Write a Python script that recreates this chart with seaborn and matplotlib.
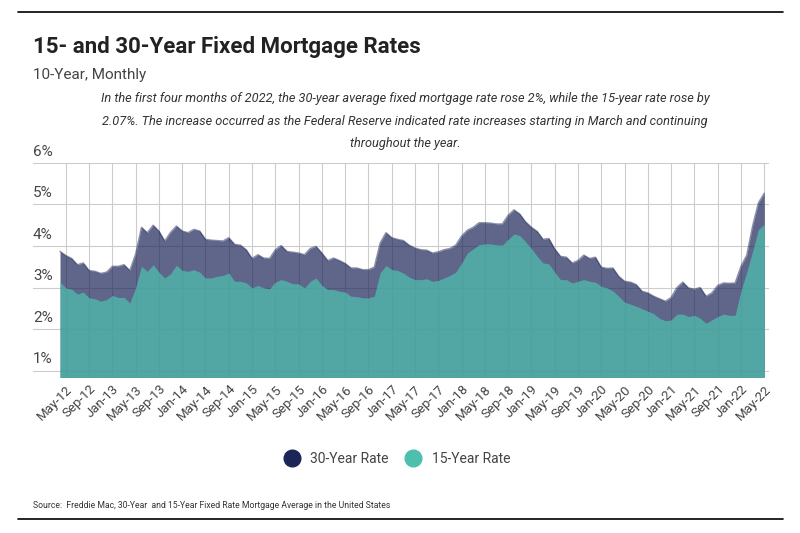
import matplotlib
matplotlib.use("Agg")
import matplotlib.pyplot as plt
from matplotlib.lines import Line2D
import seaborn as sns
import pandas as pd
import numpy as np

# Monthly (last week of month), Apr-2012 .. May-2022
months = pd.date_range("2012-04-01", "2022-05-01", freq="MS")

rate_30 = [3.87, 3.77, 3.70, 3.55, 3.59, 3.41, 3.39, 3.34, 3.37, 3.51,
           3.51, 3.55, 3.41, 3.81, 4.45, 4.32, 4.50, 4.36, 4.12, 4.33,
           4.48, 4.36, 4.32, 4.40, 4.36, 4.16, 4.14, 4.13, 4.12, 4.20,
           4.04, 4.02, 3.91, 3.70, 3.79, 3.71, 3.70, 3.91, 4.01, 3.87,
           3.85, 3.83, 3.79, 3.94, 3.99, 3.83, 3.65, 3.71, 3.65, 3.58,
           3.47, 3.47, 3.43, 3.43, 3.49, 4.07, 4.32, 4.20, 4.16, 4.13,
           4.02, 3.95, 3.91, 3.90, 3.83, 3.86, 3.91, 3.94, 4.02, 4.24,
           4.38, 4.45, 4.56, 4.56, 4.55, 4.53, 4.53, 4.74, 4.87, 4.77,
           4.58, 4.45, 4.35, 4.16, 4.18, 3.93, 3.75, 3.73, 3.59, 3.65,
           3.78, 3.70, 3.73, 3.49, 3.46, 3.47, 3.27, 3.15, 3.13, 3.07,
           2.91, 2.87, 2.79, 2.73, 2.67, 2.76, 3.00, 3.13, 2.99, 2.96,
           3.00, 2.79, 2.87, 3.05, 3.11, 3.10, 3.11, 3.51, 3.78, 4.48,
           5.04, 5.27]

rate_15 = [3.13, 2.99, 2.96, 2.84, 2.89, 2.75, 2.73, 2.67, 2.71, 2.81,
           2.76, 2.76, 2.63, 3.00, 3.51, 3.39, 3.55, 3.37, 3.23, 3.33,
           3.54, 3.41, 3.39, 3.43, 3.37, 3.23, 3.23, 3.27, 3.29, 3.35,
           3.15, 3.15, 3.11, 2.99, 3.05, 2.99, 2.97, 3.13, 3.19, 3.15,
           3.09, 3.09, 2.99, 3.15, 3.23, 3.05, 2.95, 2.95, 2.91, 2.89,
           2.79, 2.78, 2.75, 2.75, 2.79, 3.35, 3.53, 3.43, 3.41, 3.35,
           3.25, 3.19, 3.19, 3.21, 3.15, 3.17, 3.23, 3.29, 3.37, 3.59,
           3.83, 3.93, 4.03, 4.05, 4.05, 4.03, 4.02, 4.16, 4.29, 4.25,
           4.10, 3.94, 3.75, 3.59, 3.57, 3.37, 3.19, 3.19, 3.11, 3.15,
           3.19, 3.15, 3.13, 3.03, 2.99, 2.92, 2.79, 2.65, 2.60, 2.55,
           2.49, 2.43, 2.37, 2.26, 2.20, 2.22, 2.36, 2.36, 2.30, 2.33,
           2.26, 2.14, 2.22, 2.30, 2.36, 2.33, 2.33, 2.92, 3.37, 3.87,
           4.40, 4.52]

y_ticks = [1, 2, 3, 4, 5, 6]

navy = "#1b2557"
teal = "#4dbfae"

df = pd.DataFrame({"idx": np.arange(len(months)), "r30": rate_30, "r15": rate_15})

sns.set_theme(style="white")
plt.rcParams["font.family"] = ["Roboto", "DejaVu Sans"]

W, H = 800, 533
fig = plt.figure(figsize=(8, 5.33), dpi=100)
ax = fig.add_axes([33 / W, 1 - 377 / H, (769 - 33) / W, (377 - 160) / H])

# gridlines first
for v in y_ticks:
    ax.axhline(v, color="#cccccc", lw=0.8, zorder=0)
tick_idx = df["idx"].values[1::4]
for t in tick_idx:
    ax.plot([t, t], [0, 6], color="#cccccc", lw=0.8, zorder=0)

ax.fill_between(df["idx"], 0, df["r30"], color=navy, alpha=0.7, lw=0, zorder=1)
sns.lineplot(data=df, x="idx", y="r30", color=navy, alpha=0.5, lw=1, ax=ax, zorder=2)
ax.fill_between(df["idx"], 0, df["r15"], color=teal, alpha=0.72, lw=0, zorder=3)

ax.set_xlim((33 - 60) / 5.82, (769 - 60) / 5.82)
ax.set_ylim(0.845, 6.07)
ax.set_xlabel("")
ax.set_ylabel("")
ax.set_yticks([])
for s in ax.spines.values():
    s.set_visible(False)

ax.set_xticks(tick_idx)
ax.set_xticklabels([months[i].strftime("%b-%y") for i in tick_idx],
                   rotation=45, ha="right", rotation_mode="anchor",
                   fontsize=9.5, color="#444444")
ax.tick_params(axis="x", length=0, pad=4)

# y labels sit above the gridlines on the left
for v in y_ticks:
    ax.annotate(f"{v}%", xy=(0, v), xycoords=("axes fraction", "data"),
                xytext=(0, 3), textcoords="offset points",
                ha="left", va="bottom", fontsize=11, color="#444444")

# header
fig.add_artist(Line2D([18 / W, 783 / W], [1 - 12 / H, 1 - 12 / H], color="black", lw=1.2))
fig.text(33 / W, 1 - 47 / H, "15- and 30-Year Fixed Mortgage Rates",
         fontsize=16, fontweight="bold", color="#222222", va="center", ha="left")
fig.text(33 / W, 1 - 75 / H, "10-Year, Monthly", fontsize=11, color="#444444",
         va="center", ha="left")
note = ("In the first four months of 2022, the 30-year average fixed mortgage rate rose 2%, while the 15-year rate rose by\n"
        "2.07%. The increase occurred as the Federal Reserve indicated rate increases starting in March and continuing\n"
        "throughout the year.")
fig.text(405 / W, 1 - 92 / H, note, fontsize=9.2, style="italic", color="#333333",
         ha="center", va="top", linespacing=1.95)

# legend
handles = [Line2D([], [], marker="o", ls="", markersize=12, color=navy),
           Line2D([], [], marker="o", ls="", markersize=12, color=teal)]
fig.legend(handles, ["30-Year Rate", "15-Year Rate"], loc="center",
           bbox_to_anchor=(394 / W, 1 - 459 / H), ncol=2, frameon=False,
           fontsize=10, handletextpad=0.3, columnspacing=0.8,
           labelcolor="#444444")

# footer
fig.text(33 / W, 1 - 505 / H,
         "Source:  Freddie Mac, 30-Year  and 15-Year Fixed Rate Mortgage Average in the United States",
         fontsize=6.2, color="#333333", va="center", ha="left")
fig.add_artist(Line2D([18 / W, 783 / W], [1 - 519 / H, 1 - 519 / H], color="black", lw=1.2))

fig.savefig("out.png", dpi=100)
